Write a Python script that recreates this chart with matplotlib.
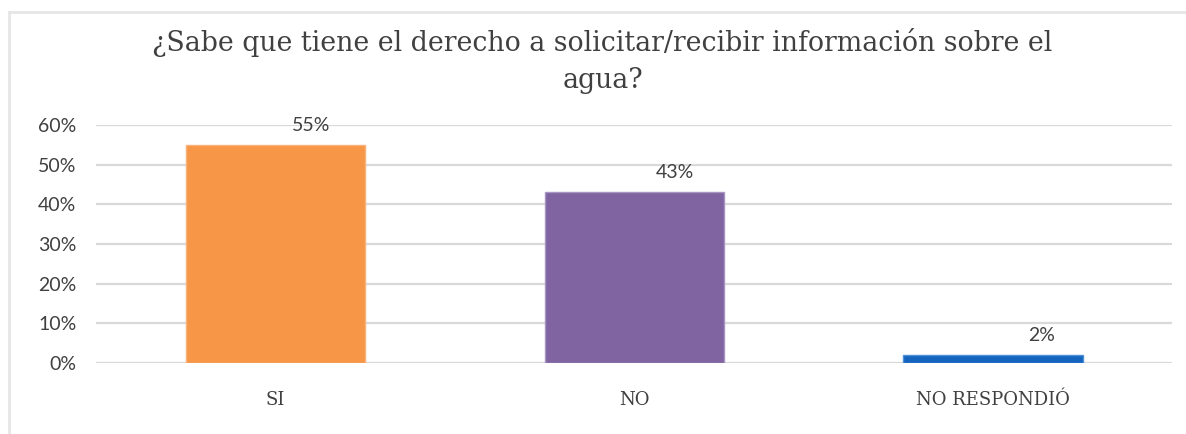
import matplotlib.pyplot as plt
from matplotlib.lines import Line2D
from matplotlib.ticker import PercentFormatter

# Survey answers
categories = ['SI', 'NO', 'NO RESPONDIÓ']
shares = [0.55, 0.43, 0.02]
bar_colors = ['#F79646', '#8064A2', '#1565BF']
edge_colors = ['#F9B27A', '#A896C2', '#4F8FD6']
yticks = [0, 0.1, 0.2, 0.3, 0.4, 0.5, 0.6]

title = '¿Sabe que tiene el derecho a solicitar/recibir información sobre el\nagua?'

# horizontal nudge of each value label (points)
label_dx = [26, 29, 35]

fig = plt.figure(figsize=(11.86, 4.34), dpi=100)
ax = fig.add_axes([0.0809, 0.1636, 0.9077, 0.5484])

x = range(len(categories))
ax.bar(x, shares, width=0.5, color=bar_colors, edgecolor=edge_colors, linewidth=1, zorder=3)

ax.set_xlim(-0.5, 2.5)
ax.set_ylim(0, 0.6)
ax.set_yticks(yticks)
ax.yaxis.set_major_formatter(PercentFormatter(1.0, decimals=0))
ax.grid(axis='y', color='#d9d9d9', linewidth=1.6, zorder=0)
for s in ax.spines.values():
    s.set_visible(False)
ax.tick_params(axis='y', length=0, pad=14, labelsize=14, labelcolor='#404040')
ax.tick_params(axis='x', length=0, pad=20, labelsize=13, labelcolor='#404040')
ax.set_xticks(list(x))
ax.set_xticklabels(categories, family='DejaVu Serif')
for lbl in ax.get_yticklabels():
    lbl.set_family('Lato')

# value labels above each bar
for xi, v, dx in zip(x, shares, label_dx):
    ax.annotate(f'{v*100:.0f}%', (xi, v), xytext=(dx, 8), textcoords='offset points',
                ha='center', va='bottom', fontsize=14, color='#404040', family='Lato')

fig.text(0.508, 0.935, title, ha='center', va='top', fontsize=19.3,
         family='DejaVu Serif', color='#404040', linespacing=1.45)

# light frame on top and left edges
fig.add_artist(Line2D([0.008, 1.0], [0.972, 0.972], transform=fig.transFigure,
                      color='#e6e6e6', linewidth=2))
fig.add_artist(Line2D([0.008, 0.008], [0.0, 0.972], transform=fig.transFigure,
                      color='#e6e6e6', linewidth=2))

fig.savefig('out.png', dpi=100)
